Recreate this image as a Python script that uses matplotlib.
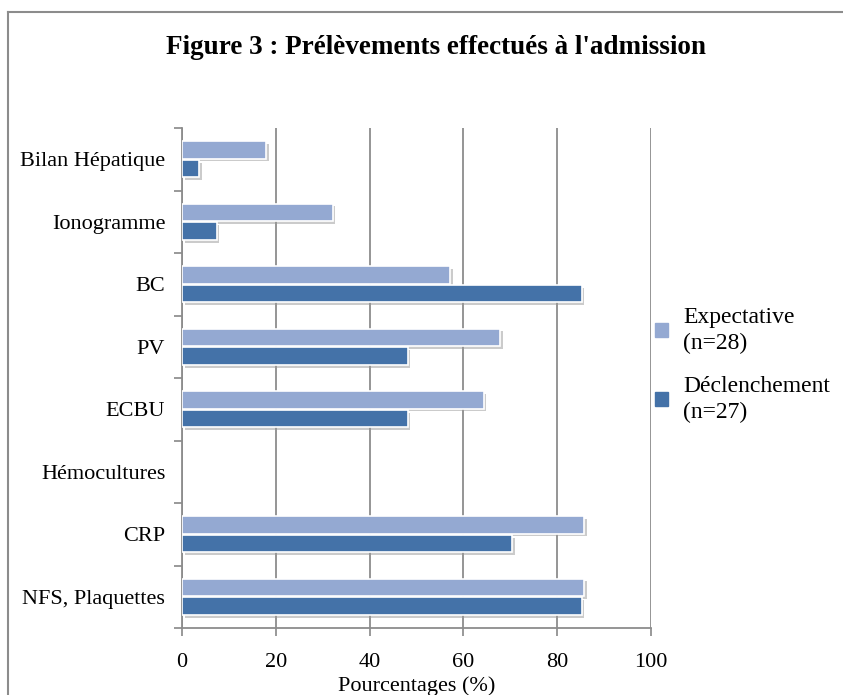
import matplotlib
matplotlib.use("Agg")
import matplotlib.pyplot as plt
import matplotlib.patheffects as pe
from matplotlib.lines import Line2D
import numpy as np

# data, top to bottom as in the chart
categories = ["Bilan Hépatique", "Ionogramme", "BC", "PV", "ECBU",
              "Hémocultures", "CRP", "NFS, Plaquettes"]
expectative = [17.9, 32.1, 57.1, 67.9, 64.3, 0, 85.7, 85.7]
declenchement = [3.7, 7.4, 85.2, 48.1, 48.1, 0, 70.4, 85.2]
series_names = ["Expectative\n(n=28)", "Déclenchement\n(n=27)"]
xticks = [0, 20, 40, 60, 80, 100]

c_exp = "#94a9d2"
c_dec = "#4472a8"

plt.rcParams['font.family'] = ['Liberation Serif', 'DejaVu Serif']

fig = plt.figure(figsize=(8.43, 6.95), dpi=100)
ax = fig.add_axes([182/843, 1-628/695, (651-182)/843, 500/695])

y = np.arange(len(categories))
h = 0.28
shadow = [pe.withSimplePatchShadow(offset=(2, -2), shadow_rgbFace="#999999", alpha=0.5)]
b1 = ax.barh(y - 0.15, expectative, height=h, color=c_exp, edgecolor="white",
             linewidth=1.2, zorder=3)
b2 = ax.barh(y + 0.15, declenchement, height=h, color=c_dec, edgecolor="white",
             linewidth=1.2, zorder=3)
for bars in (b1, b2):
    for p in bars:
        if p.get_width() > 0:
            p.set_path_effects(shadow)
        else:
            p.set_visible(False)

ax.set_xlim(0, 100)
ax.set_ylim(len(categories) - 0.5, -0.5)
ax.set_xticks(xticks)
ax.set_xticklabels([str(t) for t in xticks], fontsize=16)
ax.set_yticks(y)
ax.set_yticklabels(categories, fontsize=16)
ax.set_yticks(np.arange(len(categories) + 1) - 0.5, minor=True)
ax.tick_params(axis='y', which='major', length=0, pad=12)
ax.tick_params(axis='y', which='minor', length=6, color="#888888", width=1.2)
ax.tick_params(axis='x', length=6, color="#888888", width=1.2, pad=12)

ax.grid(axis='x', color="#8c8c8c", linewidth=1.3, zorder=0)
ax.set_axisbelow(True)
for s in ("top", "right"):
    ax.spines[s].set_visible(False)
for s in ("left", "bottom"):
    ax.spines[s].set_color("#8c8c8c")
    ax.spines[s].set_linewidth(1.3)

ax.set_xlabel("Pourcentages (%)", fontsize=16, labelpad=3)

fig.text(0.517, 1-48/695, "Figure 3 : Prélèvements effectués à l'admission",
         ha="center", va="center", fontsize=19.5, fontweight="bold")

handles = [plt.Rectangle((0, 0), 1, 1, color=c_exp),
           plt.Rectangle((0, 0), 1, 1, color=c_dec)]
leg = fig.legend(handles, series_names, loc="center left",
                 bbox_to_anchor=(655/843, 1-365/695), frameon=False, fontsize=17,
                 handlelength=0.55, handleheight=0.55, handletextpad=0.65,
                 labelspacing=0.95, borderpad=0, borderaxespad=0)
for t in leg.get_texts():
    t.set_linespacing(1.3)

# outer frame of the chart
fig.add_artist(Line2D([8/843, 8/843], [0, 1-12/695], transform=fig.transFigure,
                      color="#8c8c8c", linewidth=1.5))
fig.add_artist(Line2D([8/843, 1], [1-12/695, 1-12/695], transform=fig.transFigure,
                      color="#8c8c8c", linewidth=1.5))

fig.savefig("out.png", dpi=100)
